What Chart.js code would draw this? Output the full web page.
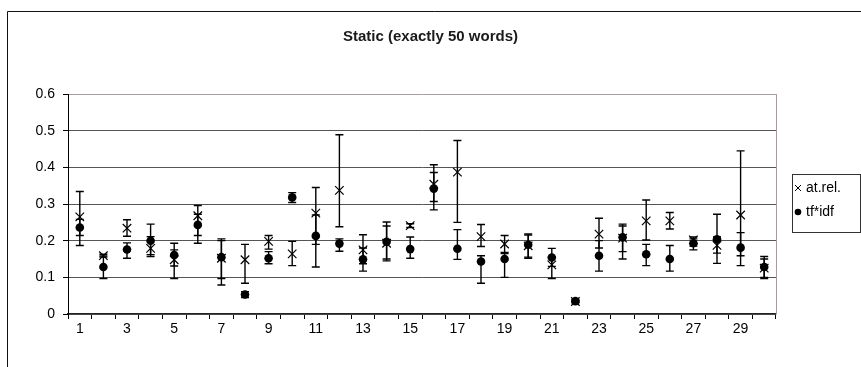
<!DOCTYPE html>
<html>
<head>
<meta charset="utf-8">
<script src="https://cdn.jsdelivr.net/npm/chart.js@4.4.1/dist/chart.umd.min.js"></script>
<style>
  html, body { margin: 0; padding: 0; background: #ffffff; }
  #wrap { width: 861px; height: 367px; }
</style>
</head>
<body>
<div id="wrap"><canvas id="c" width="861" height="367"></canvas></div>
<script>
const chartTitle = 'Static (exactly 50 words)';
const categories = ['1','2','3','4','5','6','7','8','9','10','11','12','13','14','15','16','17','18','19','20','21','22','23','24','25','26','27','28','29','30'];
const yTicks = [0, 0.1, 0.2, 0.3, 0.4, 0.5, 0.6];

const atRelLabel = 'at.rel.';
const atRel     = [0.265,0.159,0.234,0.179,0.148,0.268,0.152,0.148,0.198,0.164,0.275,0.337,0.175,0.193,0.241,0.354,0.387,0.211,0.191,0.186,0.134,0.034,0.218,0.207,0.254,0.254,0.202,0.187,0.270,0.125];
const atRelLow  = [0.187,0.155,0.212,0.157,0.097,0.193,0.097,0.084,0.177,0.132,0.190,0.238,0.137,0.145,0.236,0.307,0.250,0.184,0.168,0.155,0.097,0.031,0.180,0.150,0.202,0.232,0.185,0.166,0.132,0.097];
const atRelHigh = [0.334,0.163,0.257,0.211,0.175,0.296,0.205,0.190,0.214,0.198,0.345,0.489,0.216,0.251,0.246,0.407,0.473,0.244,0.214,0.218,0.155,0.037,0.261,0.245,0.311,0.277,0.210,0.210,0.445,0.150];

const tfIdfLabel = 'tf*idf';
const tfIdf     = [0.236,0.128,0.176,0.200,0.161,0.243,0.155,0.053,0.152,0.318,0.213,0.192,0.149,0.197,0.177,0.342,0.178,0.143,0.150,0.189,0.154,0.035,0.159,0.209,0.163,0.150,0.193,0.204,0.181,0.128];
const tfIdfLow  = [0.214,0.097,0.152,0.162,0.131,0.214,0.079,0.045,0.137,0.304,0.128,0.171,0.117,0.150,0.152,0.284,0.149,0.084,0.100,0.152,0.130,0.031,0.117,0.170,0.132,0.117,0.175,0.138,0.159,0.100];
const tfIdfHigh = [0.258,0.158,0.194,0.245,0.193,0.272,0.200,0.061,0.170,0.331,0.270,0.205,0.180,0.240,0.210,0.386,0.230,0.159,0.165,0.215,0.179,0.039,0.200,0.240,0.190,0.187,0.205,0.272,0.222,0.157];

const FONT = "'Liberation Sans', Arial, Helvetica, sans-serif";

const errorBarPlugin = {
  id: 'errorBars',
  beforeDatasetsDraw(chart) {
    const ctx = chart.ctx;
    const xs = chart.scales.x, ys = chart.scales.y;
    const sets = [[atRelLow, atRelHigh], [tfIdfLow, tfIdfHigh]];
    ctx.save();
    ctx.strokeStyle = '#000';
    ctx.lineWidth = 1.4;
    sets.forEach(([lo, hi]) => {
      for (let i = 0; i < categories.length; i++) {
        const x = xs.getPixelForValue(i);
        const y1 = ys.getPixelForValue(lo[i]);
        const y2 = ys.getPixelForValue(hi[i]);
        ctx.beginPath();
        ctx.moveTo(x, y1); ctx.lineTo(x, y2);
        ctx.moveTo(x - 4, y1); ctx.lineTo(x + 4, y1);
        ctx.moveTo(x - 4, y2); ctx.lineTo(x + 4, y2);
        ctx.stroke();
      }
    });
    ctx.restore();
  }
};

const framePlugin = {
  id: 'frame',
  beforeDraw(chart) {
    const ctx = chart.ctx;
    ctx.save();
    ctx.fillStyle = '#fff';
    ctx.fillRect(0, 0, chart.width, chart.height);
    ctx.strokeStyle = '#111';
    ctx.lineWidth = 1;
    ctx.beginPath();
    ctx.moveTo(7.5, chart.height); ctx.lineTo(7.5, 11.5); ctx.lineTo(chart.width, 11.5);
    ctx.stroke();
    ctx.restore();
  },
  afterDraw(chart) {
    const ctx = chart.ctx;
    const a = chart.chartArea;
    ctx.save();
    // right border of plot area
    ctx.strokeStyle = '#a89c9c';
    ctx.lineWidth = 1;
    ctx.beginPath();
    ctx.moveTo(Math.round(a.right) + 0.5, a.top); ctx.lineTo(Math.round(a.right) + 0.5, a.bottom);
    ctx.stroke();
    // legend
    const bx = 792.5, by = 174.5, bw = 68, bh = 58;
    ctx.strokeStyle = '#333';
    ctx.strokeRect(bx, by, bw, bh);
    ctx.fillStyle = '#000';
    ctx.strokeStyle = '#000';
    ctx.font = '14px ' + FONT;
    ctx.textBaseline = 'middle';
    ctx.textAlign = 'left';
    const ds = chart.data.datasets;
    ctx.beginPath();
    ctx.lineWidth = 1;
    ctx.moveTo(795, 185); ctx.lineTo(801, 191);
    ctx.moveTo(801, 185); ctx.lineTo(795, 191);
    ctx.stroke();
    ctx.fillText(ds[0].label, 806, 188);
    ctx.beginPath();
    ctx.arc(798, 212, 3.3, 0, Math.PI * 2);
    ctx.fill();
    ctx.fillText(ds[1].label, 806, 212);
    ctx.restore();
  }
};

new Chart(document.getElementById('c'), {
  type: 'line',
  data: {
    labels: categories,
    datasets: [
      {
        label: atRelLabel,
        data: atRel,
        showLine: false,
        pointStyle: 'crossRot',
        pointRadius: 6,
        pointBorderWidth: 1.2,
        borderColor: '#000',
        backgroundColor: 'rgba(0,0,0,0)'
      },
      {
        label: tfIdfLabel,
        data: tfIdf,
        showLine: false,
        pointStyle: 'circle',
        pointRadius: 4.3,
        pointBorderWidth: 0,
        borderColor: '#000',
        backgroundColor: '#000'
      }
    ]
  },
  options: {
    responsive: false,
    animation: false,
    events: [],
    layout: { padding: { left: 0, right: 0, top: 0, bottom: 31 } },
    plugins: {
      legend: { display: false },
      tooltip: { enabled: false },
      title: {
        display: true,
        text: chartTitle,
        color: '#1a1a1a',
        font: { family: FONT, size: 15, weight: 'bold', lineHeight: 1.2 },
        padding: { top: 28, bottom: 48 }
      }
    },
    scales: {
      x: {
        type: 'category',
        offset: true,
        grid: {
          offset: true,
          drawOnChartArea: false,
          drawTicks: true,
          tickLength: 5,
          tickColor: '#000'
        },
        border: { display: true, color: '#222', width: 1.2 },
        ticks: {
          autoSkip: false,
          maxRotation: 0,
          padding: 2,
          color: '#000',
          font: { family: FONT, size: 14 },
          callback: function (v, i) { return i % 2 === 0 ? categories[i] : ''; }
        },
        afterFit(s) { s.height = 22; }
      },
      y: {
        min: 0,
        max: 0.6,
        afterBuildTicks(s) { s.ticks = yTicks.map(v => ({ value: v })); },
        grid: {
          color: (c) => (c.tick && Math.abs(c.tick.value - 0.6) < 1e-9) ? '#a89c9c' : '#555',
          lineWidth: 1,
          drawTicks: true,
          tickLength: 5,
          tickColor: '#000'
        },
        border: { display: true, color: '#000', width: 1 },
        ticks: {
          padding: 8,
          color: '#000',
          font: { family: FONT, size: 14 },
          callback: (v) => v === 0 ? '0' : v.toFixed(1)
        },
        afterFit(s) { s.width = 68; }
      },
      yRightSpace: {
        position: 'right',
        display: true,
        min: 0,
        max: 0.6,
        grid: { display: false, drawTicks: false },
        border: { display: false },
        ticks: { display: false },
        afterFit(s) { s.width = 85; }
      }
    }
  },
  plugins: [framePlugin, errorBarPlugin]
});
</script>
</body>
</html>
